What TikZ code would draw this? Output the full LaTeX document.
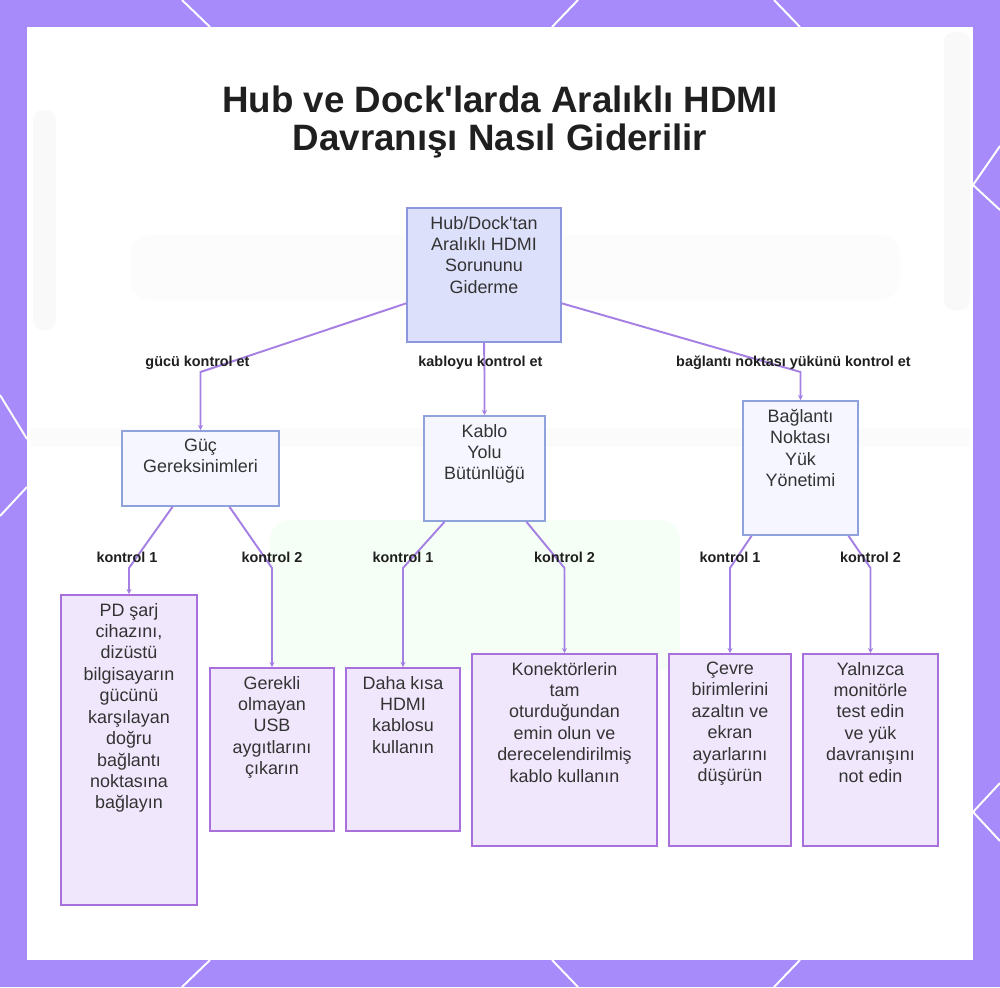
\documentclass[tikz,border=0pt]{standalone}
\usepackage{fontspec}
\setmainfont{Liberation Sans}[Ligatures=TeXOff]
\usetikzlibrary{
  arrows.meta,
  calc,
  positioning
}
\definecolor{pagebg}{HTML}{A78BFA}
\definecolor{rootfill}{HTML}{DDE0FB}
\definecolor{rootline}{HTML}{8D97DD}
\definecolor{midfill}{HTML}{F5F6FF}
\definecolor{midline}{HTML}{8FA2DC}
\definecolor{leaffill}{HTML}{F1E7FD}
\definecolor{leafline}{HTML}{A870DA}
\definecolor{linkcol}{HTML}{A580E4}
\definecolor{boxtext}{HTML}{333333}
\definecolor{titletext}{HTML}{1F1F1F}
\tikzset{>=stealth}
\tikzset{
  rootbox/.style={draw=rootline, fill=rootfill, line width=1pt, inner sep=0pt, text=boxtext, font=\fontsize{10.2}{12.2}\selectfont},
  midbox/.style={rootbox, draw=midline, fill=midfill},
  leafbox/.style={rootbox, draw=leafline, fill=leaffill},
  link/.style={draw=linkcol, line width=1.1pt, -{Stealth[length=3pt,width=3pt]}},
  lbl/.style={font=\fontsize{8.2}{10}\selectfont\bfseries, text=titletext, inner sep=1pt},
  borderline/.style={white, line width=1.1pt}
}
\newcommand{\boxtext}[3]{\parbox[t][#2][t]{#1}{\vspace*{0.16cm}\centering #3\par}}

\begin{document}
\begin{tikzpicture}[x=0.02cm,y=-0.02cm]
	\useasboundingbox (0,0) rectangle (1000,987);
	\fill[pagebg] (0,0) rectangle (1000,987);
	\draw[borderline] (182,0) -- (210,27) (578,0) -- (552,27) (774,0) -- (800,27);
	\draw[borderline] (210,960) -- (182,987) (552,960) -- (578,987) (800,960) -- (774,987);
	\draw[borderline] (0,395) -- (27,439) (27,487) -- (0,516);
	\draw[borderline] (1000,146) -- (973,185) -- (1000,210) (1000,783) -- (973,812) -- (1000,841);
	\fill[white] (27,27) rectangle (973,960);
	\fill[gray!10, opacity=.45, rounded corners=0.2cm] (33,110) rectangle (56,330);
	\fill[gray!10, opacity=.45, rounded corners=0.2cm] (944,32) rectangle (970,310);
	\fill[gray!6, opacity=.45] (30,428) rectangle (970,447);
	\fill[gray!5, opacity=.45, rounded corners=0.4cm] (130,235) rectangle (900,300);
	\fill[green!25!white, opacity=.15, rounded corners=0.4cm] (270,520) rectangle (680,670);

	\node[font=\fontsize{20.9}{21.2}\selectfont\bfseries, text=titletext, align=center] (title) at (500,122) {Hub ve Dock'larda Aralıklı HDMI\\Davranışı Nasıl Giderilir};

	\node[rootbox] (root) at (484,275) {\boxtext{3.08cm}{2.68cm}{Hub/Dock'tan\\Aralıklı HDMI\\Sorununu\\Giderme}};
	\node[midbox] (guc) at (200.5,468.5) {\boxtext{3.14cm}{1.5cm}{Güç\\Gereksinimleri}};
	\node[midbox] (kablo) at (484.5,468.5) {\boxtext{2.42cm}{2.1cm}{Kablo\\Yolu\\Bütünlüğü}};
	\node[midbox] (bag) at (800.5,468) {\boxtext{2.3cm}{2.68cm}{Bağlantı\\Noktası\\Yük\\Yönetimi}};

	\node[leafbox] (sarj) at (129,750) {\boxtext{2.72cm}{6.2cm}{PD şarj\\cihazını,\\dizüstü\\bilgisayarın\\gücünü\\karşılayan\\doğru\\bağlantı\\noktasına\\bağlayın}};
	\node[leafbox] (usb) at (272,749.5) {\boxtext{2.48cm}{3.26cm}{Gerekli\\olmayan\\USB\\aygıtlarını\\çıkarın}};
	\node[leafbox] (kisa) at (403,749.5) {\boxtext{2.28cm}{3.26cm}{Daha kısa\\HDMI\\kablosu\\kullanın}};
	\node[leafbox] (konektor) at (564.5,750) {\boxtext{3.7cm}{3.84cm}{Konektörlerin\\tam\\oturduğundan\\emin olun ve\\derecelendirilmiş\\kablo kullanın}};
	\node[leafbox] (cevre) at (730,750) {\boxtext{2.44cm}{3.84cm}{Çevre\\birimlerini\\azaltın ve\\ekran\\ayarlarını\\düşürün}};
	\node[leafbox] (monitor) at (870.5,750) {\boxtext{2.7cm}{3.84cm}{Yalnızca\\monitörle\\test edin\\ve yük\\davranışını\\not edin}};

	\coordinate (y1) at (0,372);
	\coordinate (y2) at (0,568);

	\draw[link] (root.200) -- (guc.north |- y1) node[lbl, yshift=0.18cm, xshift=-0.06cm] (l1) {gücü kontrol et} -- (guc.north);
	\draw[link] (root.south) -- (kablo.north |- y1) node[lbl, yshift=0.18cm, xshift=-0.08cm] (l2) {kabloyu kontrol et} -- (kablo.north);
	\draw[link] (root.340) -- (bag.north |- y1) node[lbl, yshift=0.18cm, xshift=-0.14cm] (l3) {bağlantı noktası yükünü kontrol et} -- (bag.north);

	\draw[link] ($(guc.south)+(-28,0)$) -- (sarj.north |- y2) node[lbl, yshift=0.22cm, xshift=-0.04cm] (l4) {kontrol 1} -- (sarj.north);
	\draw[link] ($(guc.south)+(29,0)$) -- (usb.north |- y2) node[lbl, yshift=0.22cm] (l5) {kontrol 2} -- (usb.north);
	\draw[link] ($(kablo.south)+(-40,0)$) -- (kisa.north |- y2) node[lbl, yshift=0.22cm] (l6) {kontrol 1} -- (kisa.north);
	\draw[link] ($(kablo.south)+(42,0)$) -- (konektor.north |- y2) node[lbl, yshift=0.22cm] (l7) {kontrol 2} -- (konektor.north);
	\draw[link] ($(bag.south)+(-49,0)$) -- (cevre.north |- y2) node[lbl, yshift=0.22cm] (l8) {kontrol 1} -- (cevre.north);
	\draw[link] ($(bag.south)+(48,0)$) -- (monitor.north |- y2) node[lbl, yshift=0.22cm] (l9) {kontrol 2} -- (monitor.north);
\end{tikzpicture}
\end{document}
